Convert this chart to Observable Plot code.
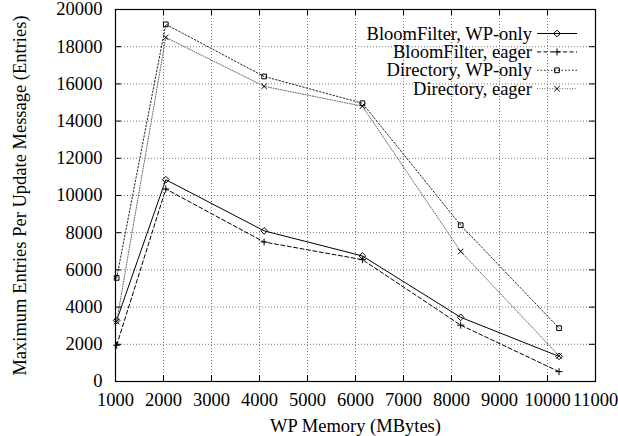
<!DOCTYPE html>
<html>
<head>
<meta charset="utf-8">
<script src="https://cdn.jsdelivr.net/npm/d3@7"></script>
<script src="https://cdn.jsdelivr.net/npm/@observablehq/plot@0.6"></script>
<style>
  html, body { margin: 0; padding: 0; background: #fff; }
  #chart svg { display: block; }
  #chart svg, #chart svg text {
    font-family: "Liberation Serif", "DejaVu Serif", serif !important;
    font-size: 18.5px !important;
  }
</style>
</head>
<body>
<div id="chart"></div>
<script>
// WP memory sizes (MBytes) on the x axis
const memory = [1024, 2048, 4096, 6144, 8192, 10240];

// Maximum entries per update message, one array per configuration
const bloomWpOnly = [3280, 10850, 8100, 6750, 3450, 1350];
const bloomEager  = [1950, 10350, 7500, 6550, 3030, 530];
const dirWpOnly   = [5570, 19200, 16400, 14960, 8400, 2870];
const dirEager    = [3220, 18500, 15870, 14800, 6990, 1380];

const seriesNames = [
  "BloomFilter, WP-only",
  "BloomFilter, eager",
  "Directory, WP-only",
  "Directory, eager"
];
const seriesValues = [bloomWpOnly, bloomEager, dirWpOnly, dirEager];

// Tick values
const xTicks = [1000, 2000, 3000, 4000, 5000, 6000, 7000, 8000, 9000, 10000, 11000];
const yTicks = [0, 2000, 4000, 6000, 8000, 10000, 12000, 14000, 16000, 18000, 20000];

// Line and marker styles for each configuration
const styles = [
  {stroke: "#000", dash: null,    symbol: "diamond2", r: 3},
  {stroke: "#000", dash: "4,2.5", symbol: "plus",     r: 2.4},
  {stroke: "#222", dash: "1.5,2", symbol: "square2",  r: 3},
  {stroke: "#666", dash: "1,1.5", symbol: "times",    r: 2.6}
];

const W = 618, H = 436;
const M = {top: 9, right: 23, bottom: 55, left: 115};
const innerW = W - M.left - M.right;
const innerH = H - M.top - M.bottom;
const tickLen = 6;

const series = seriesNames.map((name, i) => ({
  name,
  style: styles[i],
  rows: memory.map((m, j) => ({memory: m, value: seriesValues[i][j]}))
}));

const marks = [
  Plot.gridX(xTicks, {stroke: "#777", strokeOpacity: 1, strokeDasharray: "1,2"}),
  Plot.gridY(yTicks, {stroke: "#777", strokeOpacity: 1, strokeDasharray: "1,2"}),
  // inward tick marks on all four sides
  Plot.tickX(xTicks, {x: d => d, insetTop: innerH - tickLen, stroke: "#000"}),
  Plot.tickX(xTicks, {x: d => d, insetBottom: innerH - tickLen, stroke: "#000"}),
  Plot.tickY(yTicks, {y: d => d, insetRight: innerW - tickLen, stroke: "#000"}),
  Plot.tickY(yTicks, {y: d => d, insetLeft: innerW - tickLen, stroke: "#000"}),
  Plot.axisX(xTicks, {tickSize: 0, tickPadding: 11, tickFormat: d => String(d),
    label: "WP Memory (MBytes)", labelAnchor: "center", labelArrow: "none", labelOffset: 50}),
  Plot.axisY(yTicks, {tickSize: 0, tickPadding: 13, tickFormat: d => String(d),
    label: "Maximum Entries Per Update Message (Entries)", labelAnchor: "center", labelArrow: "none", labelOffset: 103})
];

for (const s of series) {
  marks.push(Plot.line(s.rows, {
    x: "memory", y: "value",
    stroke: s.style.stroke, strokeWidth: 1,
    strokeDasharray: s.style.dash
  }));
  marks.push(Plot.dot(s.rows, {
    x: "memory", y: "value",
    symbol: s.style.symbol, r: s.style.r,
    stroke: "#000", strokeWidth: 1, fill: "none"
  }));
}
marks.push(Plot.frame({stroke: "#000", strokeWidth: 1.2}));

const chart = Plot.plot({
  width: W,
  height: H,
  marginTop: M.top,
  marginRight: M.right,
  marginBottom: M.bottom,
  marginLeft: M.left,
  style: {background: "#fff", color: "#000"},
  x: {domain: [1000, 11000]},
  y: {domain: [0, 20000]},
  marks
});

// Legend in the upper-right corner of the plot area
const svg = d3.select(chart);
const legend = svg.append("g");
const right = W - M.right;
const symbolFor = {
  diamond2: d3.symbolDiamond2, plus: d3.symbolPlus,
  square2: d3.symbolSquare2, times: d3.symbolTimes
};
series.forEach((s, i) => {
  const y = M.top + 24.5 + i * 18.4;
  legend.append("text")
    .attr("x", right - 63).attr("y", y).attr("dy", "0.33em")
    .attr("text-anchor", "end").attr("fill", "#000")
    .text(s.name);
  legend.append("line")
    .attr("x1", right - 58).attr("x2", right - 18)
    .attr("y1", y).attr("y2", y)
    .attr("stroke", s.style.stroke)
    .attr("stroke-dasharray", s.style.dash);
  legend.append("path")
    .attr("transform", `translate(${right - 38},${y})`)
    .attr("d", d3.symbol(symbolFor[s.style.symbol], s.style.r * s.style.r * Math.PI)())
    .attr("fill", "none").attr("stroke", "#000");
});

document.getElementById("chart").appendChild(chart);
</script>
</body>
</html>
